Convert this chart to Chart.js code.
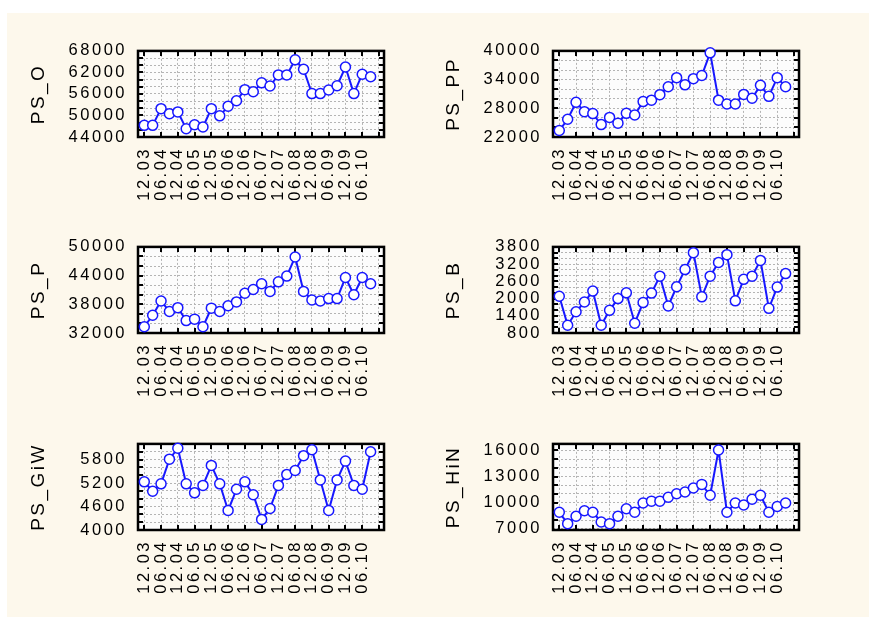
<!DOCTYPE html>
<html>
<head>
<meta charset="utf-8">
<script src="https://cdn.jsdelivr.net/npm/chart.js@4.4.0/dist/chart.umd.min.js"></script>
<style>
  html, body { margin: 0; padding: 0; background: #ffffff; }
  #sheet { position: absolute; left: 7px; top: 13px; width: 862px; height: 604px; background: #fdf8ec; }
  .panel { position: absolute; }
  .panel canvas { display: block; }
</style>
</head>
<body>
<div id="sheet"></div>
<div class="panel" style="left:8px;top:30px"><canvas id="chartO" width="401" height="180"></canvas></div>
<div class="panel" style="left:423px;top:30px"><canvas id="chartPP" width="401" height="180"></canvas></div>
<div class="panel" style="left:8px;top:226px"><canvas id="chartP" width="401" height="180"></canvas></div>
<div class="panel" style="left:423px;top:226px"><canvas id="chartB" width="401" height="180"></canvas></div>
<div class="panel" style="left:8px;top:423px"><canvas id="chartGiW" width="401" height="180"></canvas></div>
<div class="panel" style="left:423px;top:423px"><canvas id="chartHiN" width="401" height="180"></canvas></div>
<script>
// quarterly series, 12.03 .. 09.10 (28 quarters); every second quarter is labelled
var periodLabels = ['12.03', '06.04', '12.04', '06.05', '12.05', '06.06', '12.06',
                    '06.07', '12.07', '06.08', '12.08', '06.09', '12.09', '06.10'];

var psO = [47250, 47250, 51900, 50500, 51000, 46300, 47400, 46800, 51900, 49900,
           52600, 54100, 57200, 56600, 59100, 58200, 61300, 61300, 65500, 62900,
           56100, 56100, 57100, 58300, 63500, 56100, 61500, 60800];
var psPP = [23350, 25700, 29250, 27300, 26900, 24600, 26100, 24900, 26950, 26600,
            29400, 29700, 30850, 32500, 34400, 32900, 34200, 34850, 39600, 29700,
            28900, 28900, 30900, 30100, 32800, 30500, 34400, 32500];
var psP = [33300, 35700, 38700, 36500, 37300, 34600, 34900, 33300, 37200, 36500,
           37700, 38500, 40300, 41100, 42300, 40700, 42700, 43900, 47900, 40700,
           38900, 38700, 39200, 39200, 43600, 40000, 43600, 42300];
var psB = [2080, 1070, 1540, 1880, 2260, 1070, 1590, 2000, 2200, 1140,
           1860, 2190, 2780, 1740, 2410, 3010, 3600, 2060, 2780, 3260,
           3530, 1920, 2670, 2780, 3330, 1660, 2400, 2870];
var psGiW = [5230, 4990, 5180, 5810, 6090, 5180, 4950, 5140, 5650, 5180,
             4500, 5040, 5230, 4900, 4270, 4550, 5140, 5420, 5520, 5900,
             6050, 5280, 4500, 5280, 5760, 5140, 5040, 6000];
var psHiN = [8900, 7600, 8450, 9080, 8900, 7790, 7600, 8450, 9300, 8900,
             9960, 10180, 10180, 10630, 11030, 11220, 11690, 12100, 10850, 16040,
             8900, 9960, 9740, 10400, 10850, 8900, 9560, 9960];

var textFont = '"Liberation Sans", Arial, sans-serif';
var lineBlue = '#1717ff';

// plot background, inward tick marks on all four sides and the heavy frame
var framePlugin = {
    id: 'frame',
    beforeDraw: function (chart) {
        var ctx = chart.ctx, a = chart.chartArea;
        ctx.save();
        ctx.fillStyle = '#fcfcfc';
        ctx.fillRect(a.left, a.top, a.right - a.left, a.bottom - a.top);
        ctx.restore();
        ctx.letterSpacing = '2.5px'; // wide lettering for all the axis text
    },
    beforeDatasetsDraw: function (chart) {
        var ctx = chart.ctx, a = chart.chartArea;
        var xs = chart.scales.x, ys = chart.scales.y;
        ctx.save();
        ctx.strokeStyle = '#000';
        ctx.lineWidth = 2;
        ctx.beginPath();
        xs.ticks.forEach(function (t) {
            var px = Math.round(xs.getPixelForValue(t.value));
            if (px <= a.left + 1 || px >= a.right - 1) return;
            ctx.moveTo(px, a.top); ctx.lineTo(px, a.top + 5);
            ctx.moveTo(px, a.bottom); ctx.lineTo(px, a.bottom - 5);
        });
        ys.ticks.forEach(function (t) {
            var py = Math.round(ys.getPixelForValue(t.value));
            if (py <= a.top + 1 || py >= a.bottom - 1) return;
            ctx.moveTo(a.left, py); ctx.lineTo(a.left + 5, py);
            ctx.moveTo(a.right, py); ctx.lineTo(a.right - 5, py);
        });
        ctx.stroke();
        ctx.lineWidth = 2.5;
        ctx.strokeRect(a.left, a.top, a.right - a.left, a.bottom - a.top);
        ctx.restore();
    }
};

function renderPanel(id, title, values, yMin, yMax, gridStep, labelBase, labelStep) {
    var points = values.map(function (v, i) { return { x: i, y: v }; });
    return new Chart(document.getElementById(id), {
        type: 'line',
        data: {
            datasets: [{
                data: points,
                borderColor: lineBlue,
                borderWidth: 2,
                tension: 0,
                clip: false,
                pointRadius: 5,
                pointBorderWidth: 1.5,
                pointBorderColor: lineBlue,
                pointBackgroundColor: '#ffffff'
            }]
        },
        options: {
            responsive: false,
            animation: false,
            events: [],
            layout: { padding: { left: 0, top: 16, right: 10, bottom: 0 } },
            plugins: { legend: { display: false }, tooltip: { enabled: false } },
            scales: {
                x: {
                    type: 'linear',
                    min: -0.75,
                    max: 28.6,
                    afterFit: function (s) { s.height = 73; },
                    grid: { color: '#b4b4b4', lineWidth: 1, drawTicks: false },
                    border: { display: false, dash: [2, 2] },
                    ticks: {
                        stepSize: 2,
                        includeBounds: false,
                        autoSkip: false,
                        minRotation: 90,
                        maxRotation: 90,
                        padding: 10,
                        color: '#000',
                        font: { family: textFont, size: 16.5 },
                        callback: function (v) { return periodLabels[v / 2] || ''; }
                    }
                },
                y: {
                    min: yMin,
                    max: yMax,
                    afterFit: function (s) { s.width = 130; },
                    // one grid line per gridStep, whatever the axis ends are
                    afterBuildTicks: function (s) {
                        var ticks = [];
                        for (var v = Math.ceil(yMin / gridStep) * gridStep; v <= yMax; v += gridStep) {
                            ticks.push({ value: v });
                        }
                        s.ticks = ticks;
                    },
                    grid: { color: '#b4b4b4', lineWidth: 1, drawTicks: false },
                    border: { display: false, dash: [2, 2] },
                    title: {
                        display: true,
                        text: title,
                        color: '#000',
                        font: { family: textFont, size: 19 },
                        padding: { top: 19, bottom: 0 }
                    },
                    ticks: {
                        autoSkip: false,
                        padding: 11,
                        color: '#000',
                        font: { family: textFont, size: 16.5 },
                        callback: function (v) { return (v - labelBase) % labelStep === 0 ? String(v) : ''; }
                    }
                }
            }
        },
        plugins: [framePlugin]
    });
}

renderPanel('chartO', 'PS_O', psO, 44000, 68000, 2000, 44000, 6000);
renderPanel('chartPP', 'PS_PP', psPP, 22000, 40000, 2000, 22000, 6000);
renderPanel('chartP', 'PS_P', psP, 32000, 50000, 2000, 32000, 6000);
renderPanel('chartB', 'PS_B', psB, 800, 3800, 200, 800, 600);
renderPanel('chartGiW', 'PS_GiW', psGiW, 4000, 6200, 200, 4000, 600);
renderPanel('chartHiN', 'PS_HiN', psHiN, 6870, 16740, 1000, 7000, 3000);
</script>
</body>
</html>
